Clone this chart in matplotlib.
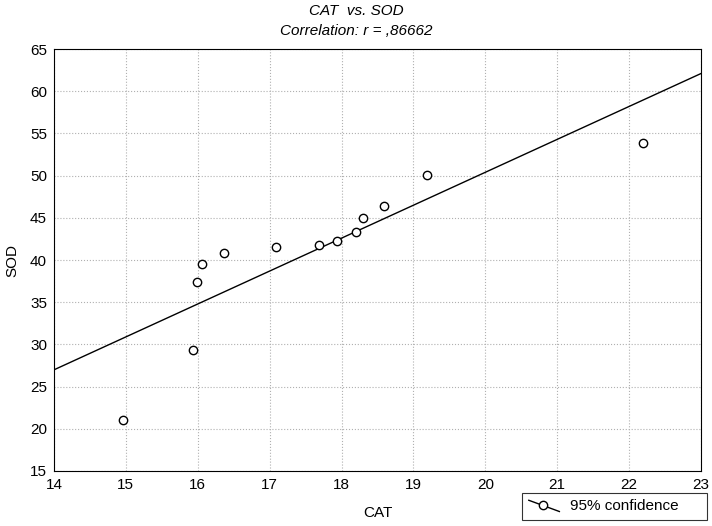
import numpy as np
import matplotlib
matplotlib.use("Agg")
import matplotlib.pyplot as plt
from matplotlib.legend_handler import HandlerBase
from matplotlib.lines import Line2D

plt.rcParams['font.family'] = ['Liberation Sans', 'DejaVu Sans']

cat = [14.96, 15.93, 15.99, 16.06, 16.36, 17.09, 17.69, 17.94, 18.20, 18.30, 18.59, 19.19, 22.19]
sod = [21.0, 29.3, 37.4, 39.5, 40.8, 41.5, 41.8, 42.2, 43.3, 45.0, 46.4, 50.1, 53.9]
x_range = [14, 23]


class DiagHandler(HandlerBase):
    # diagonal line with an open circle, as in the original legend key
    def create_artists(self, legend, orig_handle, xdescent, ydescent,
                       width, height, fontsize, trans):
        ln = Line2D([0.0, width], [0.95 * height, -0.1 * height],
                    color='black', lw=1.0, transform=trans)
        mk = Line2D([0.45 * width], [0.47 * height], marker='o', ms=6,
                    mfc='white', mec='black', mew=1.0, ls='none', transform=trans)
        return [ln, mk]


fig = plt.figure(figsize=(7.12, 5.26), dpi=100)
ax = fig.add_axes([0.0758, 0.1046, 0.9088, 0.8022])

slope, intercept = np.polyfit(cat, sod, 1)
xs = np.array(x_range)
ax.plot(xs, slope * xs + intercept, color='black', lw=1.0)
ax.plot(cat, sod, 'o', ms=6, mfc='white', mec='black', mew=1.0, ls='none')

ax.set_xlim(14, 23)
ax.set_ylim(15, 65)
ax.set_xticks(range(14, 24))
ax.set_yticks(range(15, 66, 5))
ax.tick_params(length=0, labelsize=11, pad=5)
ax.grid(True, color='#b0b0b0', ls=':', lw=0.8)
for s in ax.spines.values():
    s.set_linewidth(0.8)

ax.set_xlabel('CAT', fontsize=11, labelpad=10)
ax.set_ylabel('SOD', fontsize=11, labelpad=8)
fig.text(0.5, 0.993, 'CAT  vs. SOD', ha='center', va='top', fontsize=11, style='italic')
fig.text(0.5, 0.955, 'Correlation: r = ,86662', ha='center', va='top', fontsize=11, style='italic')

key = Line2D([], [])
fig.legend([key], ['95% confidence     '], handler_map={key: DiagHandler()},
           loc='lower right', bbox_to_anchor=(0.997, 0.005), fontsize=11,
           frameon=True, fancybox=False, edgecolor='black', borderpad=0.45,
           handlelength=2.0, handletextpad=0.7, borderaxespad=0.2)
fig.legends[0].get_frame().set_linewidth(0.8)

fig.savefig('out.png', dpi=100)
